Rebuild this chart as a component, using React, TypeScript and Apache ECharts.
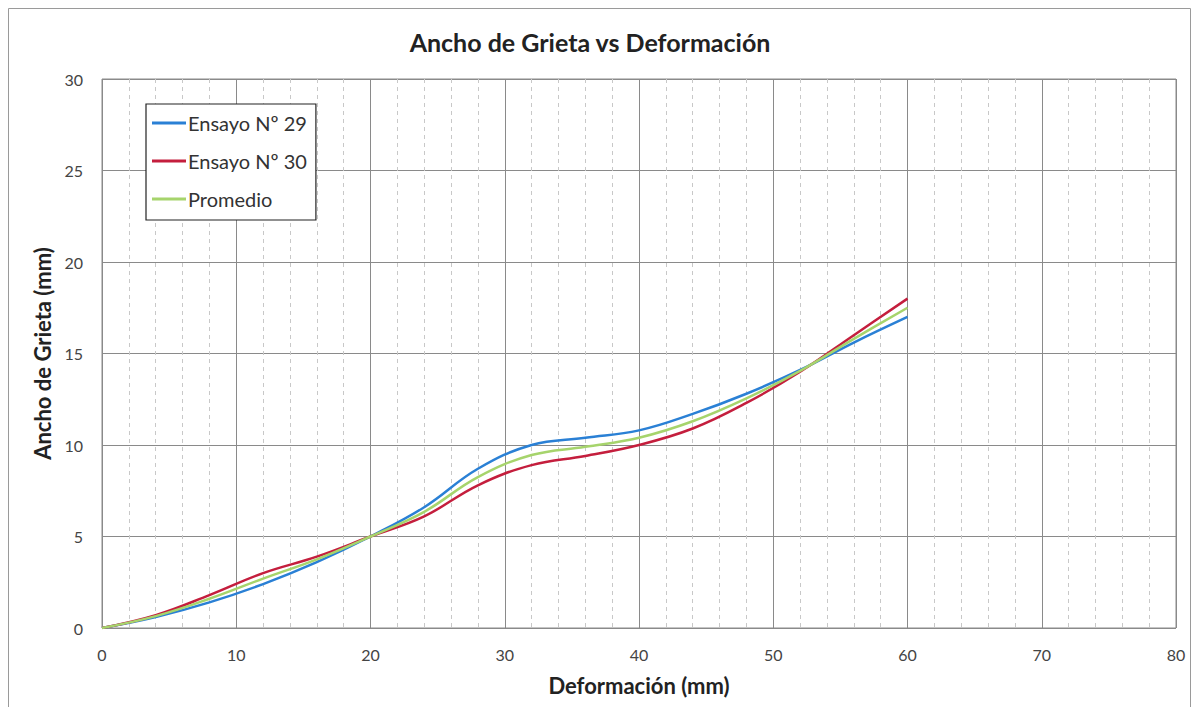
import React, { useEffect, useRef } from "react";
import * as echarts from "echarts";

const deformacion = [0, 4, 8, 12, 16, 20, 24, 28, 32, 36, 40, 44, 48, 52, 56, 60];
const ensayo29 = [0, 0.6, 1.4, 2.4, 3.6, 5.0, 6.6, 8.7, 10.0, 10.4, 10.8, 11.7, 12.8, 14.1, 15.6, 17.0];
const ensayo30 = [0, 0.7, 1.8, 3.0, 3.9, 5.0, 6.1, 7.8, 8.9, 9.4, 10.0, 10.9, 12.3, 14.0, 16.0, 18.0];
const promedio = [0, 0.65, 1.6, 2.7, 3.75, 5.0, 6.35, 8.25, 9.45, 9.9, 10.4, 11.3, 12.55, 14.05, 15.8, 17.5];

const seriesNames = ["Ensayo Nº 29", "Ensayo Nº 30", "Promedio"];
const seriesColors = ["#2a80d5", "#c41e3d", "#a6d46c"];
const seriesData = [ensayo29, ensayo30, promedio];

const FONT = "Lato, 'Open Sans', sans-serif";

export default function App() {
  const ref = useRef<HTMLDivElement>(null);
  useEffect(() => {
    if (!ref.current) return;
    const chart = echarts.init(ref.current, undefined, { renderer: "svg" });
    chart.setOption({
      animation: false,
      backgroundColor: "#ffffff",
      textStyle: { fontFamily: FONT },
      graphic: [
        {
          type: "rect",
          shape: { x: 0.5, y: 0.5, width: 1182, height: 720 },
          style: { fill: "none", stroke: "#9a9a9a", lineWidth: 1 },
          silent: true,
        },
        {
          type: "text",
          x: 582,
          y: 34,
          style: {
            text: "Ancho de Grieta vs Deformación",
            font: "bold 25px " + FONT,
            fill: "#222",
            align: "center",
            verticalAlign: "middle",
          },
        },
      ],
      legend: {
        left: 138,
        top: 96,
        orient: "vertical",
        backgroundColor: "#ffffff",
        borderColor: "#222",
        borderWidth: 1.2,
        padding: [9, 9, 11, 6],
        itemGap: 18,
        itemWidth: 34,
        itemHeight: 3,
        icon: "rect",
        textStyle: { fontFamily: FONT, fontSize: 20, color: "#333", padding: [0, 0, 0, -3] },
        data: seriesNames,
      },
      grid: {
        left: 94,
        top: 71,
        right: 16,
        bottom: 79,
        show: true,
        borderColor: "#8a8a8a",
        borderWidth: 1,
      },
      xAxis: {
        type: "value",
        min: 0,
        max: 80,
        interval: 10,
        name: "Deformación (mm)",
        nameLocation: "middle",
        nameGap: 46,
        nameTextStyle: { fontFamily: FONT, fontSize: 22, fontWeight: "bold", color: "#222" },
        axisLine: { show: false },
        axisTick: { show: false },
        axisLabel: { margin: 18, fontSize: 16, color: "#444", fontFamily: FONT },
        splitLine: { show: true, lineStyle: { color: "#8a8a8a", width: 1 } },
        minorTick: { show: false, splitNumber: 5 },
        minorSplitLine: { show: true, lineStyle: { color: "#c8c8c8", type: [4, 4], width: 1 } },
      },
      yAxis: {
        type: "value",
        min: 0,
        max: 30,
        interval: 5,
        name: "Ancho de Grieta (mm)",
        nameLocation: "middle",
        nameGap: 48,
        nameTextStyle: { fontFamily: FONT, fontSize: 22, fontWeight: "bold", color: "#222" },
        axisLine: { show: false },
        axisTick: { show: false },
        axisLabel: { margin: 19, fontSize: 16, color: "#444", fontFamily: FONT },
        splitLine: { show: true, lineStyle: { color: "#8a8a8a", width: 1 } },
      },
      series: seriesNames.map((name, i) => ({
        name,
        type: "line",
        smooth: 0.4,
        showSymbol: false,
        symbol: "none",
        data: deformacion.map((x, j) => [x, seriesData[i][j]]),
        lineStyle: { color: seriesColors[i], width: 2.5 },
        itemStyle: { color: seriesColors[i] },
        z: 2 + i,
      })),
    });
    return () => chart.dispose();
  }, []);
  return <div ref={ref} style={{ width: 1184, height: 699 }} />;
}
